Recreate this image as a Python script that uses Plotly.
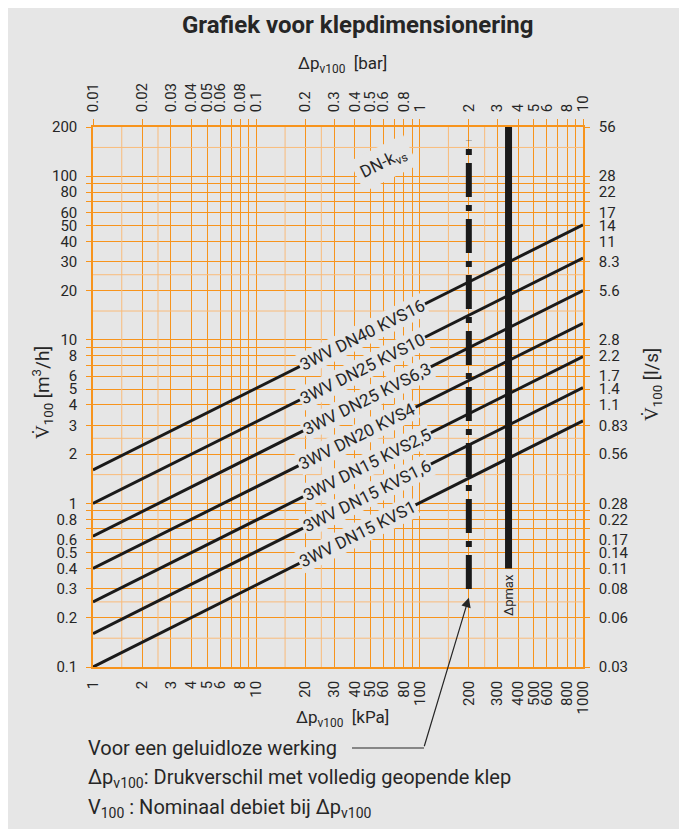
import math
import plotly.graph_objects as go

# ---------------- data ----------------
series_names = ["3WV DN40 KVS16", "3WV DN25 KVS10", "3WV DN25 KVS6,3", "3WV DN20 KVS4",
                "3WV DN15 KVS2,5", "3WV DN15 KVS1,6", "3WV DN15 KVS1"]
dp_kpa_ends = [1, 1000]
v_at_1kpa = [1.6, 1.0, 0.63, 0.4, 0.25, 0.16, 0.1]
v_at_1000kpa = [50.5, 31.6, 20.0, 12.6, 7.9, 5.1, 3.2]

silent_dp_kpa = 200
silent_v_range = [0.3, 165]
dpmax_kpa = 350
dpmax_v_range = [0.4, 200]
arrow_tip_v = 0.265

x_tick_kpa = [1, 2, 3, 4, 5, 6, 8, 10, 20, 30, 40, 50, 60, 80, 100,
              200, 300, 400, 500, 600, 800, 1000]
x_tick_kpa_text = ["1", "2", "3", "4", "5", "6", "8", "10", "20", "30", "40", "50", "60", "80",
                   "100", "200", "300", "400", "500", "600", "800", "1000"]
x_unlabeled_kpa = [7, 9, 70, 90, 700, 900]
x_light_kpa = [1.5, 2.5, 15, 25, 150, 250]
top_tick_bar = [0.01, 0.02, 0.03, 0.04, 0.05, 0.06, 0.08, 0.1, 0.2, 0.3, 0.4, 0.5, 0.6, 0.8,
                1, 2, 3, 4, 5, 6, 8, 10]
top_tick_bar_text = ["0.01", "0.02", "0.03", "0.04", "0.05", "0.06", "0.08", "0.1", "0.2", "0.3", "0.4",
                     "0.5", "0.6", "0.8", "1", "2", "3", "4", "5", "6", "8", "10"]
top_unlabeled_bar = [0.07, 0.09, 0.7, 0.9, 7, 9]
y_tick = [0.1, 0.2, 0.3, 0.4, 0.5, 0.6, 0.8, 1, 2, 3, 4, 5, 6, 8, 10,
          20, 30, 40, 50, 60, 80, 100, 200]
y_tick_text_m3h = ["0.1", "0.2", "0.3", "0.4", "0.5", "0.6", "0.8", "1", "2", "3", "4", "5", "6",
                   "8", "10", "20", "30", "40", "50", "60", "80", "100", "200"]
y_tick_text_ls = ["0.03", "0.06", "0.08", "0.11", "0.14", "0.17", "0.22", "0.28", "0.56", "0.83", "1.1",
                  "1.4", "1.7", "2.2", "2.8", "5.6", "8.3", "11", "14", "17", "22", "28", "56"]
y_unlabeled = [0.7, 0.9, 7, 9, 70, 90]
y_light = [0.15, 0.25, 1.5, 2.5, 15, 25, 150]

# ---------------- style ----------------
W, H = 687, 829
OFF = 8                      # page offset of the rendered figure
L, T = 85, 119
R, B = 112, 170
PW, PH = W - L - R, H - T - B
BG = "#e6e6e6"
OR = "#f7941d"
OR_LIGHT = "#f9bb7a"
TXT = "#262626"
FONT = "Roboto"
X_RANGE = [0, 3]
Y_RANGE = [-1, math.log10(200)]


def px(xp):
    return (xp - OFF - L) / PW


def py(yp):
    return (H - B - (yp - OFF)) / PH


fig = go.Figure()

# light grid lines
lx, ly = [], []
for v in x_light_kpa:
    lx += [v, v, None]
    ly += [10 ** Y_RANGE[0], 10 ** Y_RANGE[1], None]
for v in y_light:
    lx += [10 ** X_RANGE[0], 10 ** X_RANGE[1], None]
    ly += [v, v, None]
fig.add_trace(go.Scatter(x=lx, y=ly, mode="lines", line=dict(color=OR_LIGHT, width=1),
                         showlegend=False, hoverinfo="skip"))

# series lines
for name, v0, v1 in zip(series_names, v_at_1kpa, v_at_1000kpa):
    fig.add_trace(go.Scatter(x=dp_kpa_ends, y=[v0, v1], mode="lines", name=name,
                             line=dict(color="#1a1a1a", width=3), showlegend=False, hoverinfo="skip"))

# silent operation limit (dash-dot) and dp max
fig.add_trace(go.Scatter(x=[silent_dp_kpa, silent_dp_kpa], y=silent_v_range, mode="lines",
                         line=dict(color="#1a1a1a", width=6, dash="34px,8px,6px,8px"),
                         showlegend=False, hoverinfo="skip"))
fig.add_trace(go.Scatter(x=[dpmax_kpa, dpmax_kpa], y=dpmax_v_range, mode="lines",
                         line=dict(color="#1a1a1a", width=7), showlegend=False, hoverinfo="skip"))

# helper traces for secondary axes
fig.add_trace(go.Scatter(x=[0.01, 10], y=[0.1, 200], xaxis="x2", yaxis="y", mode="markers",
                         marker=dict(opacity=0), showlegend=False, hoverinfo="skip"))
fig.add_trace(go.Scatter(x=[1, 1000], y=[0.1, 200], xaxis="x", yaxis="y2", mode="markers",
                         marker=dict(opacity=0), showlegend=False, hoverinfo="skip"))

tickfont = dict(family=FONT, size=15, color=TXT)
fig.update_layout(
    width=W, height=H, margin=dict(l=L, r=R, t=T, b=B, autoexpand=False),
    paper_bgcolor=BG, plot_bgcolor=BG, showlegend=False,
    font=dict(family=FONT, color=TXT),
    xaxis=dict(type="log", range=X_RANGE, tickmode="array", tickvals=x_tick_kpa, ticktext=x_tick_kpa_text,
               tickangle=-90, ticks="", showgrid=True, gridcolor=OR, gridwidth=1.3,
               minor=dict(tickmode="array", tickvals=x_unlabeled_kpa, showgrid=True, gridcolor=OR,
                          gridwidth=1.3, ticks=""),
               showline=True, linecolor=OR, linewidth=1.5, zeroline=False,
               tickfont=dict(family=FONT, size=15, color=TXT), ticklabelstandoff=6),
    xaxis2=dict(type="log", range=[-2, 1], overlaying="x", side="top", anchor="y", tickmode="array",
                tickvals=top_tick_bar, ticktext=top_tick_bar_text, tickangle=-90, ticks="outside",
                ticklen=6, tickcolor=OR, tickwidth=1.3, showgrid=False,
                minor=dict(tickmode="array", tickvals=top_unlabeled_bar, ticks="outside", ticklen=6,
                           tickcolor=OR, tickwidth=1.3, showgrid=False),
                showline=True, linecolor=OR, linewidth=1.5, zeroline=False,
                tickfont=dict(family=FONT, size=15, color=TXT), ticklabelstandoff=4),
    yaxis=dict(type="log", range=Y_RANGE, tickmode="array", tickvals=y_tick,
               ticktext=y_tick_text_m3h, ticks="outside", ticklen=5, tickcolor=OR, tickwidth=1.3,
               showgrid=True, gridcolor=OR, gridwidth=1.3,
               minor=dict(tickmode="array", tickvals=y_unlabeled, showgrid=True, gridcolor=OR,
                          gridwidth=1.3, ticks="outside", ticklen=5, tickcolor=OR, tickwidth=1.3),
               showline=True, linecolor=OR, linewidth=1.5, zeroline=False, tickfont=tickfont,
               ticklabelstandoff=6),
    yaxis2=dict(type="log", range=Y_RANGE, overlaying="y", side="right", anchor="x",
                tickmode="array", tickvals=y_tick, ticktext=y_tick_text_ls, ticks="outside", ticklen=5,
                tickcolor=OR, tickwidth=1.3, showgrid=False,
                minor=dict(tickmode="array", tickvals=y_unlabeled, ticks="outside", ticklen=5,
                           tickcolor=OR, tickwidth=1.3, showgrid=False),
                showline=True, linecolor=OR, linewidth=1.5,
                zeroline=False, tickfont=tickfont, ticklabelstandoff=6),
)

ann = []
# series labels along the lines
angle = -math.degrees(math.atan(0.5 * (PH / (Y_RANGE[1] - Y_RANGE[0])) / (PW / (X_RANGE[1] - X_RANGE[0]))))
label_start_logx = 1.25
label_char_logx = 0.0284
for name, v0, v1 in zip(series_names, v_at_1kpa, v_at_1000kpa):
    lxc = label_start_logx + label_char_logx * len(name)
    lyc = math.log10(v0) + (math.log10(v1) - math.log10(v0)) * lxc / 3
    ann.append(dict(x=lxc, y=lyc, xref="x", yref="y", text=name, showarrow=False,
                    xanchor="center", yanchor="middle",
                    textangle=angle, bgcolor=BG, borderpad=1,
                    font=dict(family=FONT, size=17, color=TXT)))
ann.append(dict(x=px(383), y=py(163), xref="paper", yref="paper", text="DN-k<sub>vs</sub>",
                xanchor="center", yanchor="middle",
                showarrow=False, textangle=angle, bgcolor=BG, borderpad=5,
                font=dict(family=FONT, size=17, color=TXT)))
ann.append(dict(x=math.log10(dpmax_kpa), y=math.log10(dpmax_v_range[0]), xref="x", yref="y", text="Δpmax",
                showarrow=False, textangle=-90, xanchor="center", yanchor="top", yshift=-4,
                font=dict(family=FONT, size=13, color=TXT)))
# titles
def paper_text(x, y, text, size, angle=0, xanchor="center", bold=False):
    return dict(x=px(x), y=py(y), xref="paper", yref="paper", text=text, showarrow=False,
                xanchor=xanchor, yanchor="middle", textangle=angle,
                font=dict(family=FONT, size=size, color=TXT))


ann.append(paper_text(357, 25, "<b>Grafiek voor klepdimensionering</b>", 24))
ann.append(paper_text(342, 65, "Δp<sub>v100</sub>  [bar]", 17))
ann.append(paper_text(342, 718, "Δp<sub>v100</sub>  [kPa]", 17))
ann.append(paper_text(42, 393, "V\u0307<sub>100</sub> [m<sup>3</sup>/h]", 19, angle=-90))
ann.append(paper_text(652, 385, "V\u0307<sub>100</sub> [l/s]", 19, angle=-90))
# notes
notes = ["Voor een geluidloze werking",
         "Δp<sub>v100</sub>: Drukverschil met volledig geopende klep",
         "V<sub>100</sub> : Nominaal debiet bij Δp<sub>v100</sub>"]
for i, t in enumerate(notes):
    ann.append(paper_text(86, 748 + 30 * i, t, 20, xanchor="left"))
# arrow
ann.append(dict(x=math.log10(silent_dp_kpa), y=math.log10(arrow_tip_v), xref="x", yref="y", text="",
                showarrow=True, ax=-45, ay=150, arrowhead=2, arrowsize=1.6, arrowwidth=1.2,
                arrowcolor=TXT, standoff=0))
fig.update_layout(annotations=ann)

shapes = [
    dict(type="line", xref="paper", yref="paper", x0=px(352), x1=px(424), y0=py(748), y1=py(748),
         line=dict(color=TXT, width=1.2)),
]
fig.update_layout(shapes=shapes)

fig.write_html("out.html")
